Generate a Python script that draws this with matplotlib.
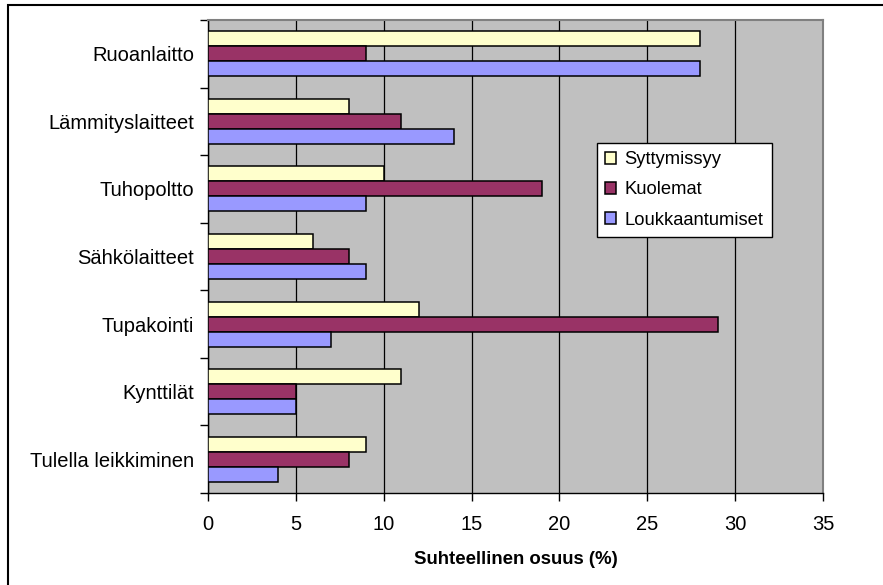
import matplotlib
matplotlib.use("Agg")
import matplotlib.pyplot as plt
import matplotlib.patches as mpatches
import numpy as np

plt.rcParams['font.family'] = ['Liberation Sans', 'DejaVu Sans']

categories = ["Ruoanlaitto", "Lämmityslaitteet", "Tuhopoltto", "Sähkölaitteet",
              "Tupakointi", "Kynttilät", "Tulella leikkiminen"]
series_names = ["Syttymissyy", "Kuolemat", "Loukkaantumiset"]
syttymissyy = [28, 8, 10, 6, 12, 11, 9]
kuolemat = [9, 11, 19, 8, 29, 5, 8]
loukkaantumiset = [28, 14, 9, 9, 7, 5, 4]
colors = ["#FFFFCC", "#993366", "#9999FF"]
xticks = [0, 5, 10, 15, 20, 25, 30, 35]

W, H = 883, 585
fig = plt.figure(figsize=(W / 100, H / 100), dpi=100)

# outer chart border
fig.patches.append(mpatches.Rectangle((8 / W, -0.1), 1.0, 1.1 - 5 / H, transform=fig.transFigure,
                                      fill=False, edgecolor="black", linewidth=1.5))

left, right, top, bottom = 208, 823, 20, 493
ax = fig.add_axes([left / W, 1 - bottom / H, (right - left) / W, (bottom - top) / H])
ax.set_facecolor("#C0C0C0")

n = len(categories)
bar_h = 1 / 4.5
y = np.arange(n)[::-1].astype(float)
for i, (vals, name) in enumerate(zip([syttymissyy, kuolemat, loukkaantumiset], series_names)):
    ax.barh(y + bar_h - i * bar_h, vals, height=bar_h, color=colors[i],
            edgecolor="black", linewidth=1.1, label=name, zorder=3)

ax.set_xlim(0, 35)
ax.set_ylim(-0.5, n - 0.5)
ax.set_xticks(xticks)
ax.set_xticklabels([str(t) for t in xticks], fontsize=14.5)
ax.xaxis.grid(True, color="black", linewidth=0.9, zorder=1)
ax.set_axisbelow(True)

ax.set_yticks(y)
ax.set_yticklabels(categories, fontsize=14.5)
ax.tick_params(axis='y', length=0, pad=10)
ax.set_yticks(np.arange(n + 1) - 0.5, minor=True)
ax.tick_params(axis='y', which='minor', length=6, width=1, direction='out')
ax.tick_params(axis='x', length=6, width=1, direction='out', pad=10)

for s in ["top", "right"]:
    ax.spines[s].set_color("#808080")
    ax.spines[s].set_linewidth(1.5)
for s in ["left", "bottom"]:
    ax.spines[s].set_color("black")
    ax.spines[s].set_linewidth(1.0)

ax.set_xlabel("Suhteellinen osuus (%)", fontsize=13.4, fontweight="bold", labelpad=12)

leg = ax.legend(loc="upper left", bbox_to_anchor=((597 - left) / (right - left), 1 - (143 - top) / (bottom - top)),
                fontsize=13.2, frameon=True, fancybox=False, edgecolor="black", framealpha=1,
                facecolor="white",
                handlelength=0.6, handleheight=0.6, handletextpad=0.45,
                borderpad=0.45, labelspacing=0.72, borderaxespad=0)
leg.get_frame().set_linewidth(1.0)

fig.savefig("out.png", dpi=100)
